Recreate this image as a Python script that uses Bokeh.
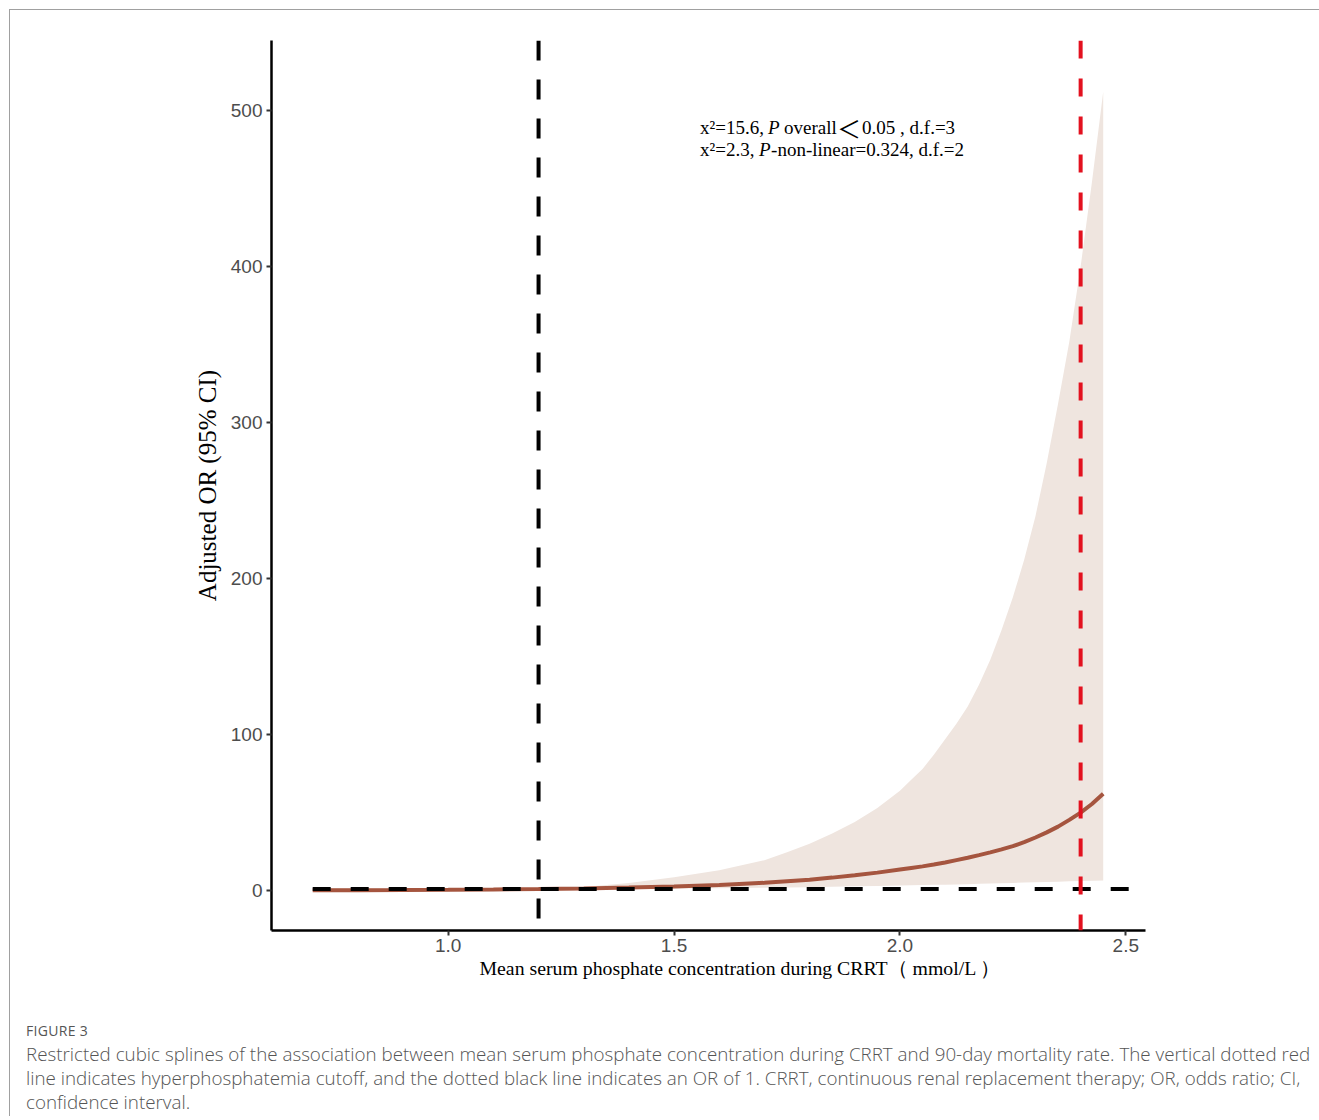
from bokeh.plotting import figure
from bokeh.models import (Span, Label, FixedTicker, NumeralTickFormatter, Range1d,
                          ColumnDataSource, Div, Title)
from bokeh.layouts import column
from bokeh.embed import file_html
from bokeh.resources import INLINE

# ---------------- data ----------------
phosphate = [0.70, 0.80, 0.90, 1.00, 1.10, 1.20, 1.30, 1.40, 1.50, 1.60, 1.70,
             1.75, 1.80, 1.85, 1.90, 1.95, 2.00, 2.025, 2.05, 2.075, 2.10, 2.125, 2.15,
             2.175, 2.20, 2.225, 2.25, 2.275, 2.30, 2.325, 2.35, 2.375, 2.40,
             2.425, 2.45]
or_est = [0.2, 0.27, 0.37, 0.52, 0.72, 1.0, 1.4, 1.9, 2.6, 3.6, 5.0,
          6.0, 7.0, 8.3, 9.8, 11.5, 13.5, 14.5, 15.5, 16.7, 18.0, 19.5, 21.0,
          22.7, 24.5, 26.4, 28.5, 31.0, 34.0, 37.3, 41.0, 45.3, 50.0,
          55.5, 62.0]
ci_low = [0.02, 0.05, 0.1, 0.2, 0.45, 1.0, 1.1, 1.2, 1.3, 1.5, 1.8,
          2.0, 2.2, 2.45, 2.7, 2.95, 3.2, 3.35, 3.5, 3.65, 3.8, 3.95, 4.1,
          4.3, 4.5, 4.7, 4.9, 5.1, 5.3, 5.5, 5.7, 5.9, 6.1,
          6.3, 6.5]
ci_high = [1.6, 1.5, 1.4, 1.3, 1.15, 1.0, 2.3, 4.8, 8.5, 13.0, 19.5,
           24.5, 30.0, 36.5, 44.0, 53.0, 64.0, 71.0, 78.0, 87.0, 97.0, 107.0, 118.0,
           132.0, 148.0, 167.0, 188.0, 212.0, 240.0, 274.0, 312.0, 352.0, 400.0,
           454.0, 512.0]

ref_or = 1.0            # OR of 1 reference line
ref_line_x = [0.70, 2.52]
ref_phosphate = 1.2     # black vertical reference
hyper_cutoff = 2.4      # red vertical: hyperphosphatemia cutoff

x_ticks = [1.0, 1.5, 2.0, 2.5]
y_ticks = [0, 100, 200, 300, 400, 500]

x_title = "Mean serum phosphate concentration during CRRT\uff08 mmol/L \uff09"
y_title = "Adjusted OR (95% CI)"

src = ColumnDataSource(dict(x=phosphate, y=or_est, lo=ci_low, hi=ci_high))

p = figure(frame_width=874, frame_height=890,
           min_border_left=261, min_border_right=170,
           min_border_top=30, min_border_bottom=70,
           x_range=Range1d(0.6088, 2.5436), y_range=Range1d(-25.6, 544.9),
           output_backend="svg", toolbar_location=None,
           background_fill_color="white", border_fill_color="white")
p.outline_line_color = None
p.grid.visible = False

# confidence band and estimate
p.varea(x="x", y1="lo", y2="hi", source=src, fill_color="#efe5df", fill_alpha=1.0)
p.line(x="x", y="y", source=src, line_color="#a5553f", line_width=4)

# reference lines
p.line(x=ref_line_x, y=[ref_or, ref_or], line_color="black", line_width=4,
       line_dash="18 20")
p.add_layout(Span(location=ref_phosphate, dimension="height", line_color="black",
                  line_width=4, line_dash="20 19"))
p.add_layout(Span(location=hyper_cutoff, dimension="height", line_color="#e3111f",
                  line_width=4, line_dash="18 20"))

# axes
for ax in (p.xaxis[0], p.yaxis[0]):
    ax.axis_line_color = "black"
    ax.axis_line_width = 2.5
    ax.major_tick_line_color = "#333333"
    ax.major_tick_line_width = 2
    ax.major_tick_out = 5
    ax.major_tick_in = 0
    ax.minor_tick_line_color = None
    ax.major_label_text_font = "Liberation Sans"
    ax.major_label_text_font_size = "19px"
    ax.major_label_text_color = "#4d4d4d"
    ax.axis_label_text_font = "Liberation Serif"
    ax.axis_label_text_font_style = "normal"
    ax.axis_label_text_color = "black"

p.xaxis.ticker = FixedTicker(ticks=x_ticks)
p.xaxis.formatter = NumeralTickFormatter(format="0.0")
p.xaxis.major_label_standoff = 3

p.yaxis.ticker = FixedTicker(ticks=y_ticks)
p.yaxis.formatter = NumeralTickFormatter(format="0")
p.yaxis.major_label_standoff = 4
p.yaxis.axis_label = y_title
p.yaxis.axis_label_text_font_size = "25px"
p.yaxis.axis_label_standoff = 7

# x-axis title (offset to the right like in the reference)
p.add_layout(Title(text=x_title, align="left", offset=208, standoff=0,
                   text_font="Liberation Serif", text_font_size="19.8px",
                   text_font_style="normal", text_color="black"), "below")

# statistics annotation
ann_x = 1.5575
rows = [
    (489.1, [("x\u00b2=15.6,", "normal", 0, "Liberation Serif", "19px"),
             ("P", "italic", 68, "Liberation Serif", "19px"),
             ("overall", "normal", 84, "Liberation Serif", "19px"),
             ("\uff1c", "normal", 137, "Noto Sans CJK SC", "24px"),
             ("0.05 , d.f.=3", "normal", 162, "Liberation Serif", "19px")]),
    (475.0, [("x\u00b2=2.3,", "normal", 0, "Liberation Serif", "19px"),
             ("P", "italic", 59, "Liberation Serif", "19px"),
             ("-non-linear=0.324, d.f.=2", "normal", 71, "Liberation Serif", "19px")]),
]
for yv, parts in rows:
    for txt, style, off, fnt, fsz in parts:
        p.add_layout(Label(x=ann_x, y=yv, x_offset=off, text=txt,
                           text_font=fnt, text_font_size=fsz,
                           text_font_style=style, text_color="black",
                           text_baseline="middle", text_align="left"))

caption = Div(
    text=("<div style='font-family:\"Open Sans\", sans-serif; color:#555555;'>"
          "<div style='font-size:14px; letter-spacing:0.3px; margin-top:16px;'>FIGURE 3</div>"
          "<div style='font-size:18.8px; line-height:24px; margin-top:1px; font-weight:300;'>"
          "Restricted cubic splines of the association between mean serum phosphate "
          "concentration during CRRT and 90-day mortality rate. The vertical dotted red<br>"
          "line indicates hyperphosphatemia cutoff, and the dotted black line indicates "
          "an OR of 1. CRRT, continuous renal replacement therapy; OR, odds ratio; CI,<br>"
          "confidence interval.</div></div>"),
    width=1295, height=106, styles={"margin-left": "16px"})

layout = column(p, caption, margin=(9, 0, 0, 9),
                styles={"border-top": "1px solid #a0a0a0",
                        "border-left": "1px solid #a0a0a0"})

open("out.html", "w").write(file_html(layout, INLINE))
